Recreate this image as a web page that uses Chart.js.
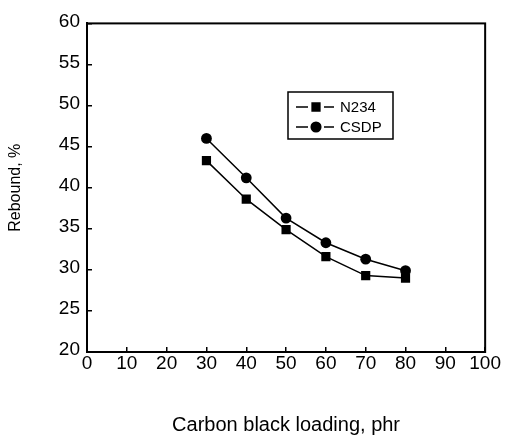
<!DOCTYPE html>
<html>
<head>
<meta charset="utf-8">
<script src="https://cdn.jsdelivr.net/npm/chart.js@4/dist/chart.umd.min.js"></script>
<style>
  html, body { margin: 0; padding: 0; background: #fff; }
  #wrap { width: 506px; height: 437px; }
</style>
</head>
<body>
<div id="wrap"><canvas id="c" width="506" height="437"></canvas></div>
<script>
// ---- data ----
const loading = [30, 40, 50, 60, 70, 80];
const n234 = [43.3, 38.6, 34.9, 31.6, 29.3, 29.0];
const csdp = [46.0, 41.2, 36.3, 33.3, 31.3, 29.9];
const seriesLabels = ['N234', 'CSDP'];
const xTitle = 'Carbon black loading, phr';
const yTitle = 'Rebound, %';
const xRange = [0, 100, 10];
const yRange = [20, 60, 5];

const FONT = "'Liberation Sans', Arial, sans-serif";

const toPts = (ys) => loading.map((x, i) => ({ x: x, y: ys[i] }));

const boxPlugin = {
  id: 'boxPlugin',
  afterDraw(chart) {
    const { ctx, chartArea: a } = chart;
    ctx.save();
    ctx.strokeStyle = '#000';
    ctx.lineWidth = 2;
    ctx.strokeRect(a.left, a.top, a.right - a.left, a.bottom - a.top);
    ctx.restore();
  }
};

const legendPlugin = {
  id: 'insideLegend',
  afterDraw(chart) {
    const { ctx } = chart;
    const bx = 288, by = 92, bw = 105, bh = 47;
    ctx.save();
    ctx.strokeStyle = '#000';
    ctx.lineWidth = 1.5;
    ctx.strokeRect(bx, by, bw, bh);
    chart.data.datasets.forEach((ds, i) => {
      const y = by + 15 + i * 20;
      ctx.strokeStyle = '#000';
      ctx.lineWidth = 1.5;
      ctx.beginPath();
      ctx.moveTo(bx + 8, y); ctx.lineTo(bx + 20, y);
      ctx.moveTo(bx + 36, y); ctx.lineTo(bx + 46, y);
      ctx.stroke();
      ctx.fillStyle = '#000';
      Chart.helpers.drawPoint(ctx, {
        pointStyle: ds.pointStyle,
        radius: ds.pointStyle === 'rect' ? 5.5 : 4.8,
        rotation: 0,
        borderWidth: 1
      }, bx + 28, y);
      ctx.fill();
      ctx.fillStyle = '#000';
      ctx.font = "15px " + FONT;
      ctx.textBaseline = 'middle';
      ctx.textAlign = 'left';
      ctx.fillText(ds.label, bx + 52, y + 1);
    });
    ctx.restore();
  }
};

new Chart(document.getElementById('c'), {
  type: 'line',
  data: {
    datasets: [
      {
        label: seriesLabels[0],
        data: toPts(n234),
        borderColor: '#000',
        backgroundColor: '#000',
        borderWidth: 1.5,
        pointStyle: 'rect',
        pointRadius: 6.5,
        pointBorderWidth: 0,
        tension: 0
      },
      {
        label: seriesLabels[1],
        data: toPts(csdp),
        borderColor: '#000',
        backgroundColor: '#000',
        borderWidth: 1.5,
        pointStyle: 'circle',
        pointRadius: 5.4,
        pointBorderWidth: 0,
        tension: 0
      }
    ]
  },
  options: {
    responsive: false,
    animation: false,
    devicePixelRatio: 1,
    layout: { padding: { top: 21, right: 19, left: 0, bottom: 0 } },
    plugins: {
      legend: { display: false },
      tooltip: { enabled: false }
    },
    scales: {
      x: {
        type: 'linear',
        min: xRange[0], max: xRange[1],
        afterFit(s) { s.height = 85; },
        border: { display: true, color: '#000', width: 2 },
        grid: { drawOnChartArea: false, drawTicks: true, tickLength: -5, color: '#000', lineWidth: 1.5 },
        ticks: {
          stepSize: xRange[2], color: '#000', padding: 5, maxRotation: 0,
          font: { family: FONT, size: 19 }
        },
        title: {
          display: true, text: xTitle, color: '#000',
          font: { family: FONT, size: 20 },
          padding: { top: 0, bottom: 0 }
        }
      },
      y: {
        type: 'linear',
        min: yRange[0], max: yRange[1],
        afterFit(s) { s.width = 87; },
        border: { display: true, color: '#000', width: 2 },
        grid: { drawOnChartArea: false, drawTicks: true, tickLength: -5, color: '#000', lineWidth: 1.5 },
        ticks: {
          stepSize: yRange[2], color: '#000', padding: 12, labelOffset: -2,
          font: { family: FONT, size: 19 }
        },
        title: {
          display: true, text: yTitle, color: '#000',
          font: { family: FONT, size: 16 },
          padding: { top: 6, bottom: 0 }
        }
      }
    }
  },
  plugins: [boxPlugin, legendPlugin]
});
</script>
</body>
</html>
